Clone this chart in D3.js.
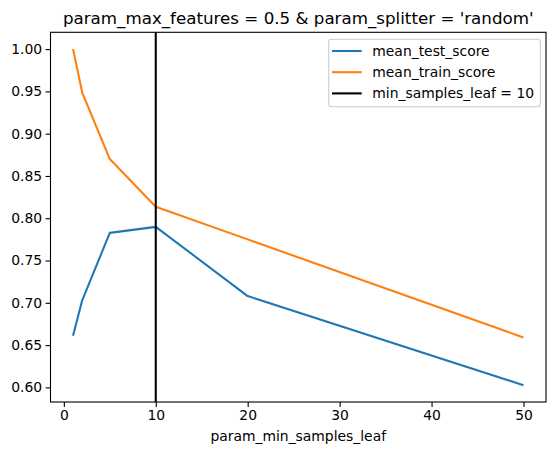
<!DOCTYPE html>
<html>
<head>
<meta charset="utf-8">
<script src="https://cdn.jsdelivr.net/npm/d3@7"></script>
<style>
  body { margin: 0; background: #fff; }
  text { font-family: "DejaVu Sans", sans-serif; fill: #000; }
</style>
</head>
<body>
<svg id="chart" width="556" height="455"></svg>
<script>
// data
const minSamplesLeaf = [1, 2, 5, 10, 20, 50];
const meanTestScore = [0.661, 0.703, 0.7827, 0.7898, 0.708, 0.6026];
const meanTrainScore = [1.0, 0.9486, 0.870, 0.8135, 0.775, 0.659];
const markerLeaf = 10;
const xTicks = [0, 10, 20, 30, 40, 50];
const yTicks = [0.60, 0.65, 0.70, 0.75, 0.80, 0.85, 0.90, 0.95, 1.00];
const legendLabels = ["mean_test_score", "mean_train_score", "min_samples_leaf = 10"];
const titleText = "param_max_features = 0.5 & param_splitter = 'random'";
const xLabelText = "param_min_samples_leaf";

const colors = ["#1f77b4", "#ff7f0e", "#000000"];

const svg = d3.select("#chart");
const plotLeft = 50.5, plotRight = 546, plotTop = 32.3, plotBottom = 402;

// matplotlib-style 5% margins
const xMin = d3.min(minSamplesLeaf), xMax = d3.max(minSamplesLeaf);
const xPad = (xMax - xMin) * 0.05;
const allY = meanTestScore.concat(meanTrainScore);
const yMin = d3.min(allY), yMax = d3.max(allY);
const yPad = (yMax - yMin) * 0.05;

const x = d3.scaleLinear().domain([xMin - xPad, xMax + xPad]).range([plotLeft, plotRight]);
const y = d3.scaleLinear().domain([yMin - yPad, yMax + yPad]).range([plotBottom, plotTop]);

// axes
const xAxis = svg.append("g")
    .attr("transform", `translate(0,${plotBottom})`)
    .call(d3.axisBottom(x).tickValues(xTicks).tickFormat(d3.format("d")).tickSizeOuter(0).tickSize(4.9).tickPadding(3.5));
const yAxis = svg.append("g")
    .attr("transform", `translate(${plotLeft},0)`)
    .call(d3.axisLeft(y).tickValues(yTicks).tickFormat(d3.format(".2f")).tickSizeOuter(0).tickSize(4.9).tickPadding(3.5));

[xAxis, yAxis].forEach(g => {
  g.select(".domain").remove();
  g.selectAll(".tick line").attr("stroke", "#000").attr("stroke-width", 1.1);
  g.selectAll(".tick text").style("font-family", "DejaVu Sans").style("font-size", "13.9px").attr("fill", "#000");
});

const line = d3.line().x(d => x(d[0])).y(d => y(d[1]));

const series = [meanTestScore, meanTrainScore];
series.forEach((vals, i) => {
  svg.append("path")
      .datum(minSamplesLeaf.map((v, j) => [v, vals[j]]))
      .attr("fill", "none")
      .attr("stroke", colors[i])
      .attr("stroke-width", 2.08)
      .attr("stroke-linejoin", "round")
      .attr("d", line);
});

// vertical marker
svg.append("line")
    .attr("x1", x(markerLeaf)).attr("x2", x(markerLeaf))
    .attr("y1", plotTop).attr("y2", plotBottom)
    .attr("stroke", "#000").attr("stroke-width", 2.08);

// frame
svg.append("rect")
    .attr("x", plotLeft).attr("y", plotTop)
    .attr("width", plotRight - plotLeft).attr("height", plotBottom - plotTop)
    .attr("fill", "none").attr("stroke", "#000").attr("stroke-width", 1.1);

// title and label
svg.append("text")
    .attr("x", (plotLeft + plotRight) / 2).attr("y", 24)
    .attr("text-anchor", "middle")
    .style("font-size", "16.7px")
    .text(titleText);

svg.append("text")
    .attr("x", (plotLeft + plotRight) / 2).attr("y", 441)
    .attr("text-anchor", "middle")
    .style("font-size", "13.9px")
    .text(xLabelText);

// legend
const legend = svg.append("g");
legend.append("rect")
    .attr("x", 328.7).attr("y", 39.3)
    .attr("width", 211.6).attr("height", 67.4)
    .attr("rx", 3).attr("ry", 3)
    .attr("fill", "#fff").attr("fill-opacity", 0.8)
    .attr("stroke", "#cccccc").attr("stroke-width", 1.1);

legendLabels.forEach((lab, i) => {
  const cy = 51 + i * 21.2;
  legend.append("line")
      .attr("x1", 332).attr("x2", 361.7)
      .attr("y1", cy).attr("y2", cy)
      .attr("stroke", colors[i]).attr("stroke-width", 2.08);
  legend.append("text")
      .attr("x", 372.3).attr("y", cy + 5)
      .style("font-size", "13.9px")
      .text(lab);
});
</script>
</body>
</html>
